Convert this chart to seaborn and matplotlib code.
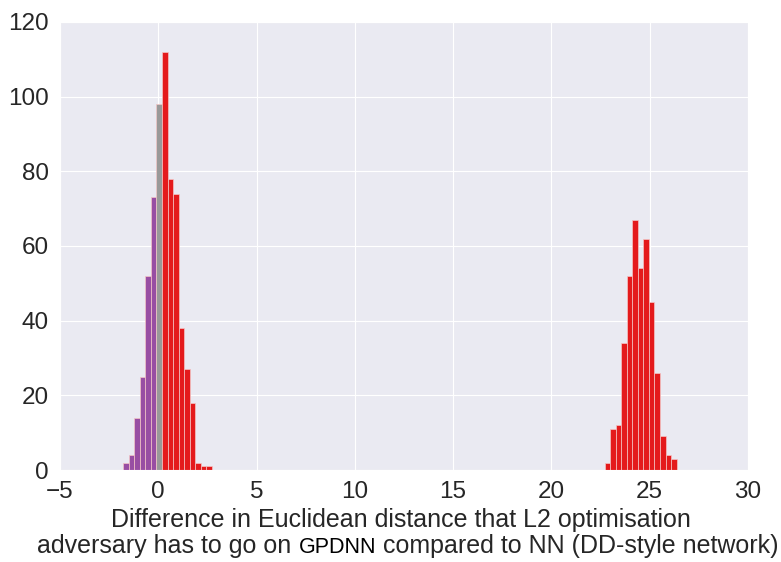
import numpy as np
import pandas as pd
import matplotlib
matplotlib.use("Agg")
import matplotlib.pyplot as plt
import seaborn as sns

# histogram: 100 bins between the min and max value
bin_lo = -1.78
bin_hi = 26.37
n_bins = 100

# counts of the left cluster (bins 0..15) and right cluster (bins 87..99)
left_start = 0
left_counts = [2, 4, 14, 25, 52, 73, 98, 112, 78, 74, 38, 27, 18, 2, 1, 1]
right_start = 87
right_counts = [2, 11, 12, 34, 52, 67, 54, 62, 45, 26, 9, 4, 3]

purple = "#984ea3"
grey = "#999999"
red = "#e41a1c"

edges = np.linspace(bin_lo, bin_hi, n_bins + 1)
centres = (edges[:-1] + edges[1:]) / 2
counts = np.zeros(n_bins)
counts[left_start:left_start + len(left_counts)] = left_counts
counts[right_start:right_start + len(right_counts)] = right_counts
df = pd.DataFrame({"diff": centres, "n": counts})

sns.set_style("darkgrid")
plt.rcParams["font.family"] = ["Liberation Sans", "DejaVu Sans"]

fig, ax = plt.subplots(figsize=(7.81, 5.62), dpi=100)
fig.subplots_adjust(left=0.0768, right=0.9577, top=0.9609, bottom=0.1637)

sns.histplot(data=df, x="diff", weights="n", bins=list(edges), ax=ax,
             color=red, alpha=1, edgecolor="#f4c6c6", linewidth=0.5)

# colour bars: below zero purple, the bin holding zero grey, above red
for p in ax.patches:
    left = p.get_x()
    right = left + p.get_width()
    if right <= 0:
        p.set_facecolor(purple)
    elif left <= 0 < right:
        p.set_facecolor(grey)
    else:
        p.set_facecolor(red)

ax.set_xlim(-5, 30)
ax.set_ylim(0, 120)
ax.set_xticks(range(-5, 31, 5))
ax.set_yticks(range(0, 121, 20))
ax.tick_params(labelsize=17.5, colors="#262626", length=0, pad=8)
ax.set_ylabel("")
ax.set_xlabel("")

# two-line x label, with GPDNN set smaller
lab_size = 18
fig.text(401 / 781, 1 - 527 / 562, "Difference in Euclidean distance that L2 optimisation",
         ha="center", va="baseline", fontsize=lab_size, color="#262626")

pieces = [("adversary has to go on ", lab_size, "#262626"),
          ("GPDNN", 15.5, "black"),
          (" compared to NN (DD-style network)", lab_size, "#262626")]
base_y = 1 - 553 / 562
texts = [fig.text(0, base_y, s, fontsize=fs, color=c, ha="left", va="baseline")
         for s, fs, c in pieces]
fig.canvas.draw()
rend = fig.canvas.get_renderer()
widths = [t.get_window_extent(rend).width / fig.bbox.width for t in texts]
x = 408 / 781 - sum(widths) / 2
for t, w in zip(texts, widths):
    t.set_x(x)
    x += w

fig.savefig("out.png")
